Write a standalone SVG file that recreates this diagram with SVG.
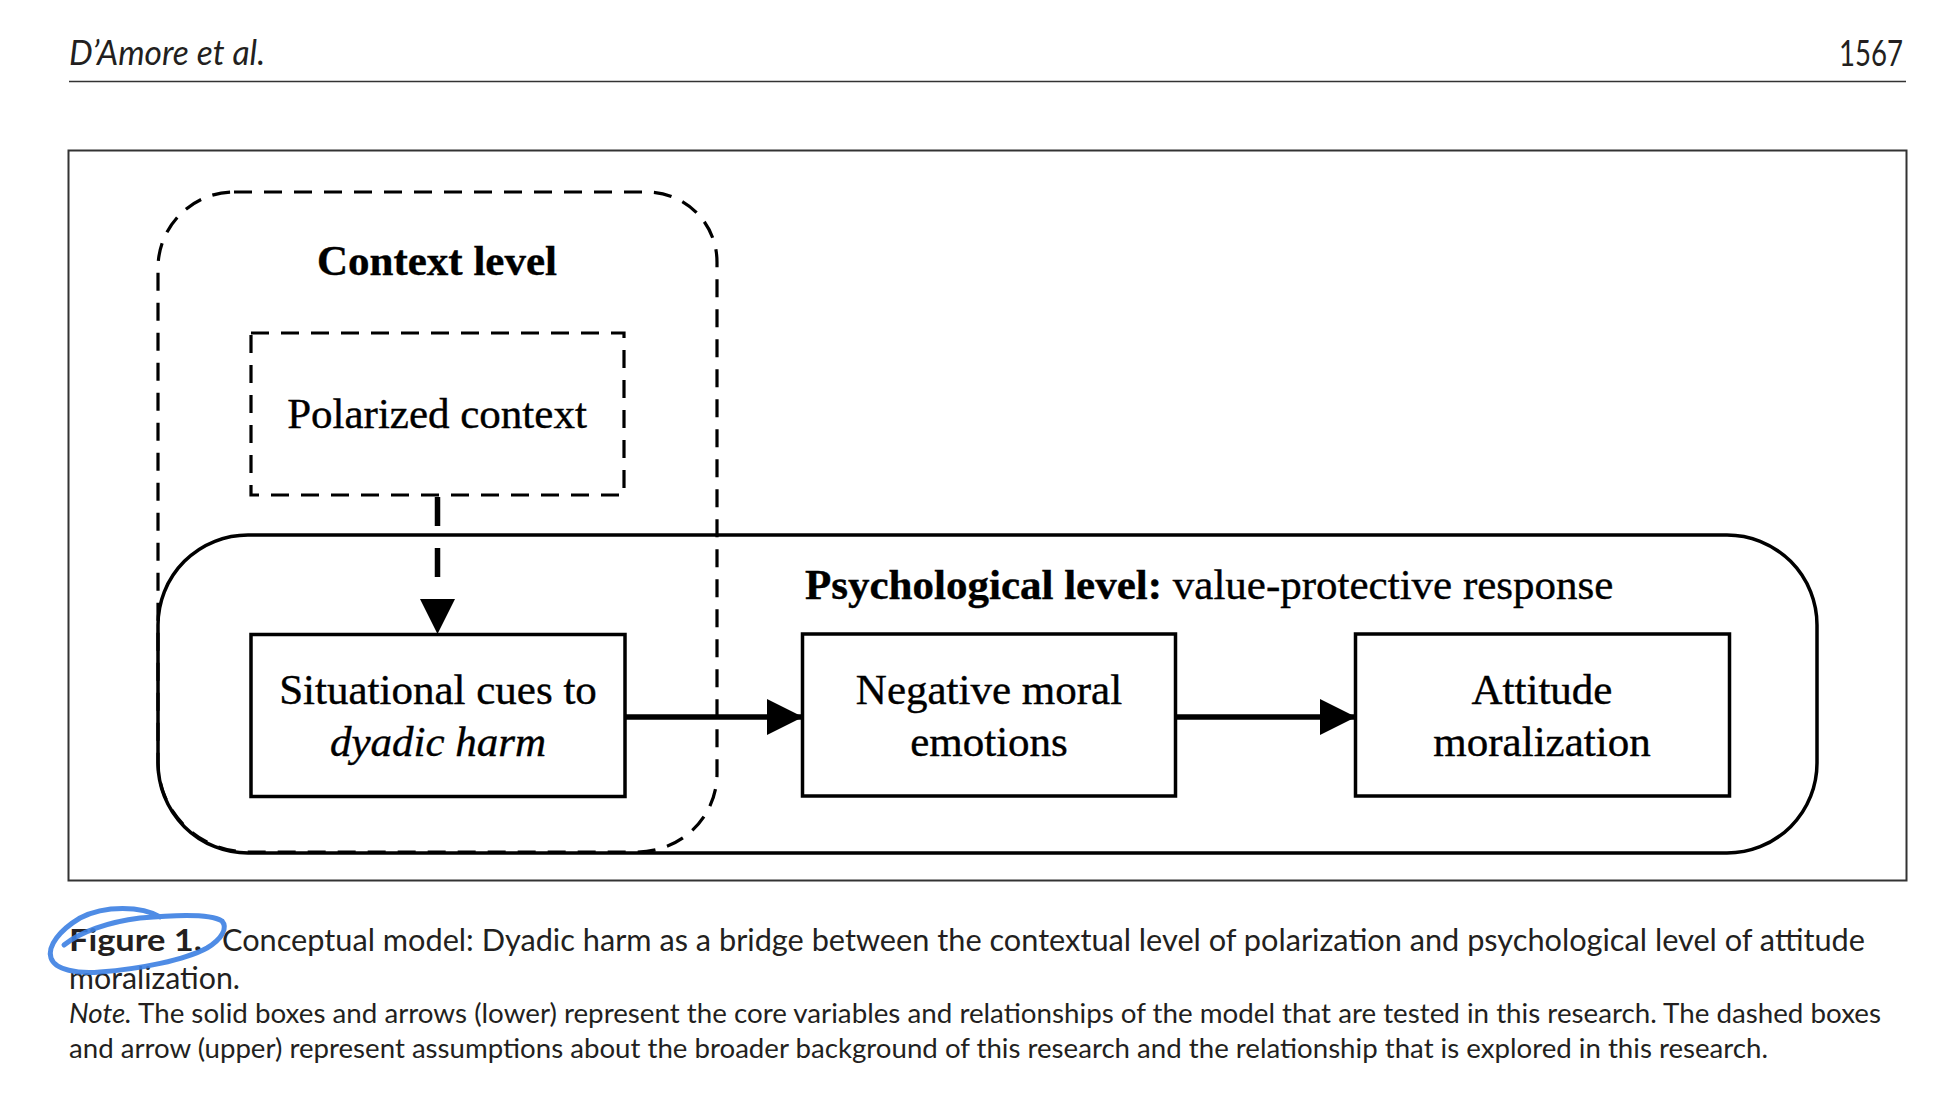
<svg xmlns="http://www.w3.org/2000/svg" width="1938" height="1118" viewBox="0 0 1938 1118">
<style>
.hdr{font-family:Lato,"Open Sans","DejaVu Sans",sans-serif;fill:#231f20}
.cap{font-family:Lato,"Open Sans","DejaVu Sans",sans-serif;fill:#231f20}
.dg{font-family:"Liberation Serif","Times New Roman",serif;font-size:43px;fill:#000;stroke:#000;stroke-width:0.4}
.solid{fill:none;stroke:#000;stroke-width:3.5}
.dash{fill:none;stroke:#000;stroke-width:3.2;stroke-dasharray:18 12}
</style>
<defs>
<marker id="ah" markerWidth="36" markerHeight="36" viewBox="0 0 36 36" refX="35" refY="18" orient="auto" markerUnits="userSpaceOnUse">
<path d="M0,0 L36,18 L0,36 Z" fill="#000"/>
</marker>
</defs>
<rect width="1938" height="1118" fill="#fff"/>
<g id="header">
<text class="hdr" x="69" y="65" font-size="34" font-style="italic" textLength="196" lengthAdjust="spacingAndGlyphs">D’Amore et al.</text>
<text class="hdr" x="1903" y="66" font-size="36" text-anchor="end" textLength="64" lengthAdjust="spacingAndGlyphs">1567</text>
<line x1="69" y1="81.5" x2="1906" y2="81.5" stroke="#333" stroke-width="1.6"/>
</g>
<rect id="frame" x="68.5" y="150.5" width="1838" height="730" fill="none" stroke="#333" stroke-width="2"/>
<g id="psychological-level">
<rect class="solid" x="158" y="535" width="1659" height="318" rx="90" ry="90" stroke-width="3.2"/>
<text class="dg" x="805" y="599"><tspan font-weight="bold">Psychological level:</tspan> value-protective response</text>
</g>
<g id="context-level">
<path class="dash" d="M234,192 H647 A70,70 0 0 1 717,262 V774 A80,78 0 0 1 637,852 H248 A90,90 0 0 1 158,762 V268 A76,76 0 0 1 234,192 Z"/>
<text class="dg" x="437" y="275" font-weight="bold" text-anchor="middle">Context level</text>
</g>
<g id="polarized-context">
<rect class="dash" x="251" y="333" width="373" height="162" stroke-width="3.5"/>
<text class="dg" x="437" y="428" text-anchor="middle">Polarized context</text>
</g>
<g id="situational-cues">
<rect class="solid" x="251" y="634.5" width="374" height="162"/>
<text class="dg" x="438" y="704" text-anchor="middle">Situational cues to</text>
<text class="dg" x="438" y="756" text-anchor="middle" font-style="italic">dyadic harm</text>
</g>
<g id="negative-moral-emotions">
<rect class="solid" x="802.5" y="634" width="373" height="162"/>
<text class="dg" x="989" y="704" text-anchor="middle">Negative moral</text>
<text class="dg" x="989" y="756" text-anchor="middle">emotions</text>
</g>
<g id="attitude-moralization">
<rect class="solid" x="1355.5" y="634" width="374" height="162"/>
<text class="dg" x="1542" y="704" text-anchor="middle">Attitude</text>
<text class="dg" x="1542" y="756" text-anchor="middle">moralization</text>
</g>
<g id="connectors">
<line x1="437.5" y1="497" x2="437.5" y2="599" stroke="#000" stroke-width="5.5" stroke-dasharray="29 22"/>
<path d="M420,599 L455,599 L437.5,634 Z" fill="#000"/>
<line x1="625" y1="717" x2="802" y2="717" stroke="#000" stroke-width="5.5" marker-end="url(#ah)"/>
<line x1="1175.5" y1="717" x2="1355" y2="717" stroke="#000" stroke-width="5.5" marker-end="url(#ah)"/>
</g>
<g id="caption">
<text class="cap" x="69" y="951" font-size="30" font-weight="bold" textLength="133" lengthAdjust="spacingAndGlyphs">Figure 1.</text>
<text class="cap" x="222" y="951" font-size="30" textLength="1643" lengthAdjust="spacingAndGlyphs">Conceptual model: Dyadic harm as a bridge between the contextual level of polarization and psychological level of attitude</text>
<text class="cap" x="69" y="989" font-size="30" textLength="171" lengthAdjust="spacingAndGlyphs">moralization.</text>
<text class="cap" x="69" y="1023" font-size="27" textLength="1812" lengthAdjust="spacingAndGlyphs"><tspan font-style="italic">Note.</tspan> The solid boxes and arrows (lower) represent the core variables and relationships of the model that are tested in this research. The dashed boxes</text>
<text class="cap" x="69" y="1058" font-size="27" textLength="1699" lengthAdjust="spacingAndGlyphs">and arrow (upper) represent assumptions about the broader background of this research and the relationship that is explored in this research.</text>
</g>
<path id="annotation" d="M160,917 C142,906 105,905 80,918 C60,930 47,946 51,958 C55,970 78,974 100,972 C140,969 185,960 207,948 C222,939 228,928 222,921 C210,913 172,915 140,918 C108,922 80,932 64,945" fill="none" stroke="#3c7fe2" stroke-width="5" stroke-linecap="round" stroke-opacity="0.9"/>
</svg>
